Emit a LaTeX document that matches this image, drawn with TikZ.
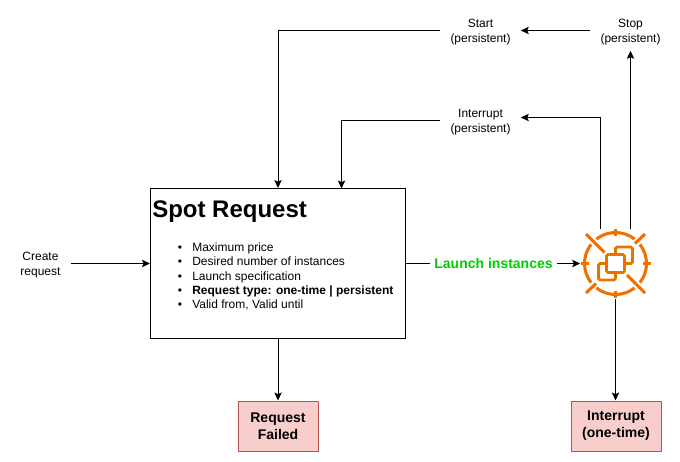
\documentclass[tikz,border=0pt]{standalone}
\usepackage{fontspec}
\setmainfont{Liberation Sans}
\usetikzlibrary{arrows.meta,calc}
\definecolor{iconorange}{HTML}{ED7100}
\definecolor{launchgreen}{HTML}{00CC00}
\definecolor{failfill}{HTML}{F8CECC}
\definecolor{failline}{HTML}{B85450}
\newcommand{\liftline}{\rule{0pt}{8.6pt}}
\tikzset{
  conn/.style={draw=black,line width=0.75pt,-{Stealth[length=6pt,width=5.5pt,inset=1.2pt]}},
  plainconn/.style={draw=black,line width=0.75pt},
  small/.style={font=\fontsize{9}{11.25}\selectfont,align=center,inner sep=0pt},
  textbox/.style={small,minimum width=60pt,minimum height=30pt},
  itemtext/.style={font=\fontsize{9}{10.8}\selectfont,anchor=base west,inner sep=0pt},
  bullet/.style={font=\fontsize{9}{10.8}\selectfont,anchor=base,inner sep=0pt},
  fail/.style={draw=failline,fill=failfill,line width=0.75pt,align=center,inner sep=0pt,
    font=\fontsize{10.5}{12.6}\bfseries\selectfont,minimum height=37.5pt},
  iconline/.style={draw=iconorange,line width=2.3pt},
  iconsq/.style={draw=iconorange,line width=2pt,rounded corners=1.2pt},
}
\begin{document}
\begin{tikzpicture}[x=0.75pt,y=-0.75pt]
\useasboundingbox (0,0) rectangle (680,461);
\fill[white] (0,0) rectangle (680,461);

% spot request box
\node[draw=black,line width=0.75pt,minimum width=191.25pt,minimum height=112.5pt,inner sep=0pt] (spot) at (278,263.5) {};
\node[anchor=base west,inner sep=0pt,font=\fontsize{18}{21.6}\bfseries\selectfont] (title) at (152,217) {Spot Request};
\node[bullet] (b1) at (180,251) {•};
\node[bullet] (b2) at (180,265) {•};
\node[bullet] (b3) at (180,280) {•};
\node[bullet] (b4) at (180,294) {•};
\node[bullet] (b5) at (180,308) {•};
\node[itemtext] (i1) at (192,251) {Maximum price};
\node[itemtext] (i2) at (192,265) {Desired number of instances};
\node[itemtext] (i3) at (192,280) {Launch specification};
\node[itemtext,font=\fontsize{9}{10.8}\bfseries\selectfont] (i4) at (192,294) {Request type: one-time | persistent};
\node[itemtext] (i5) at (192,308) {Valid from, Valid until};

% text nodes
\node[small,minimum width=45pt,minimum height=30pt] (create) at (40.5,263.5) {\liftline Create\\request};
\node[textbox] (start) at (480.5,30.5) {\liftline Start\\(persistent)};
\node[textbox] (stop) at (630.5,30.5) {\liftline Stop\\(persistent)};
\node[textbox] (intp) at (480.5,120.5) {\liftline Interrupt\\(persistent)};
\node[inner sep=0pt,font=\fontsize{10.5}{12.6}\bfseries\selectfont,text=launchgreen] (launch) at (493.5,263.5) {Launch instances};
\coordinate (launchL) at (430,263.5);
\coordinate (launchR) at (557,263.5);

% fail boxes
\node[fail,minimum width=60pt] (failed) at (278,426) {Request\\Failed};
\node[fail,minimum width=67.5pt] (oneTime) at (616,426) {Interrupt\\(one-time)};

% icon
\node[minimum size=52.5pt,inner sep=0pt] (icon) at (615.5,263.5) {};
\begin{scope}[shift={(icon.center)},x=0.75pt,y=-0.75pt]
  \draw[iconline] (52:31) arc[start angle=-52,end angle=-128,radius=23.25pt];
  \draw[iconline] (142:31) arc[start angle=-142,end angle=-218,radius=23.25pt];
  \draw[iconline] (232:31) arc[start angle=-232,end angle=-308,radius=23.25pt];
  \draw[iconline] (322:31) arc[start angle=-322,end angle=-398,radius=23.25pt];
  \draw[iconline] (0,-34.5) -- (0,-27.5);
  \draw[iconline] (0,34.5) -- (0,27.5);
  \draw[iconline] (-35,0) -- (-27,0);
  \draw[iconline] (35,0) -- (27,0);
  \draw[iconline] (-29.5,-29.5) -- (-11,-11);
  \draw[iconline] (29.5,29.5) -- (11.5,11.5);
  \draw[iconline] (29.5,-29.5) -- (19.5,-20);
  \draw[iconline] (-29.5,29.5) -- (-19.5,20);
  \draw[iconsq] (-9,-9) rectangle (9,9);
  \draw[iconsq] (0,-9) -- (0,-16.5) -- (17,-16.5) -- (17,0) -- (9,0);
  \draw[iconsq] (-9,0) -- (-17,0) -- (-17,16.5) -- (0,16.5) -- (0,9);
\end{scope}

% connectors
\draw[conn] (create.east) -- (spot.west);
\draw[conn] (start.west) -- (278,30.5) -- (spot.north);
\draw[conn] (intp.west) -- (341.5,120.5) -- (341.5,188.5);
\draw[conn] (stop.west) -- (start.east);
\draw[conn] (630.5,228.5) -- (stop.south);
\draw[conn] (600.5,228.5) -- (600.5,117.5) -- (intp.east |- 0,117.5);
\draw[plainconn] (spot.east) -- (launchL);
\draw[conn] (launchR) -- (icon.west);
\draw[conn] (spot.south) -- (failed.north);
\draw[conn] (icon.south) -- (oneTime.north -| icon.south);
\end{tikzpicture}
\end{document}
